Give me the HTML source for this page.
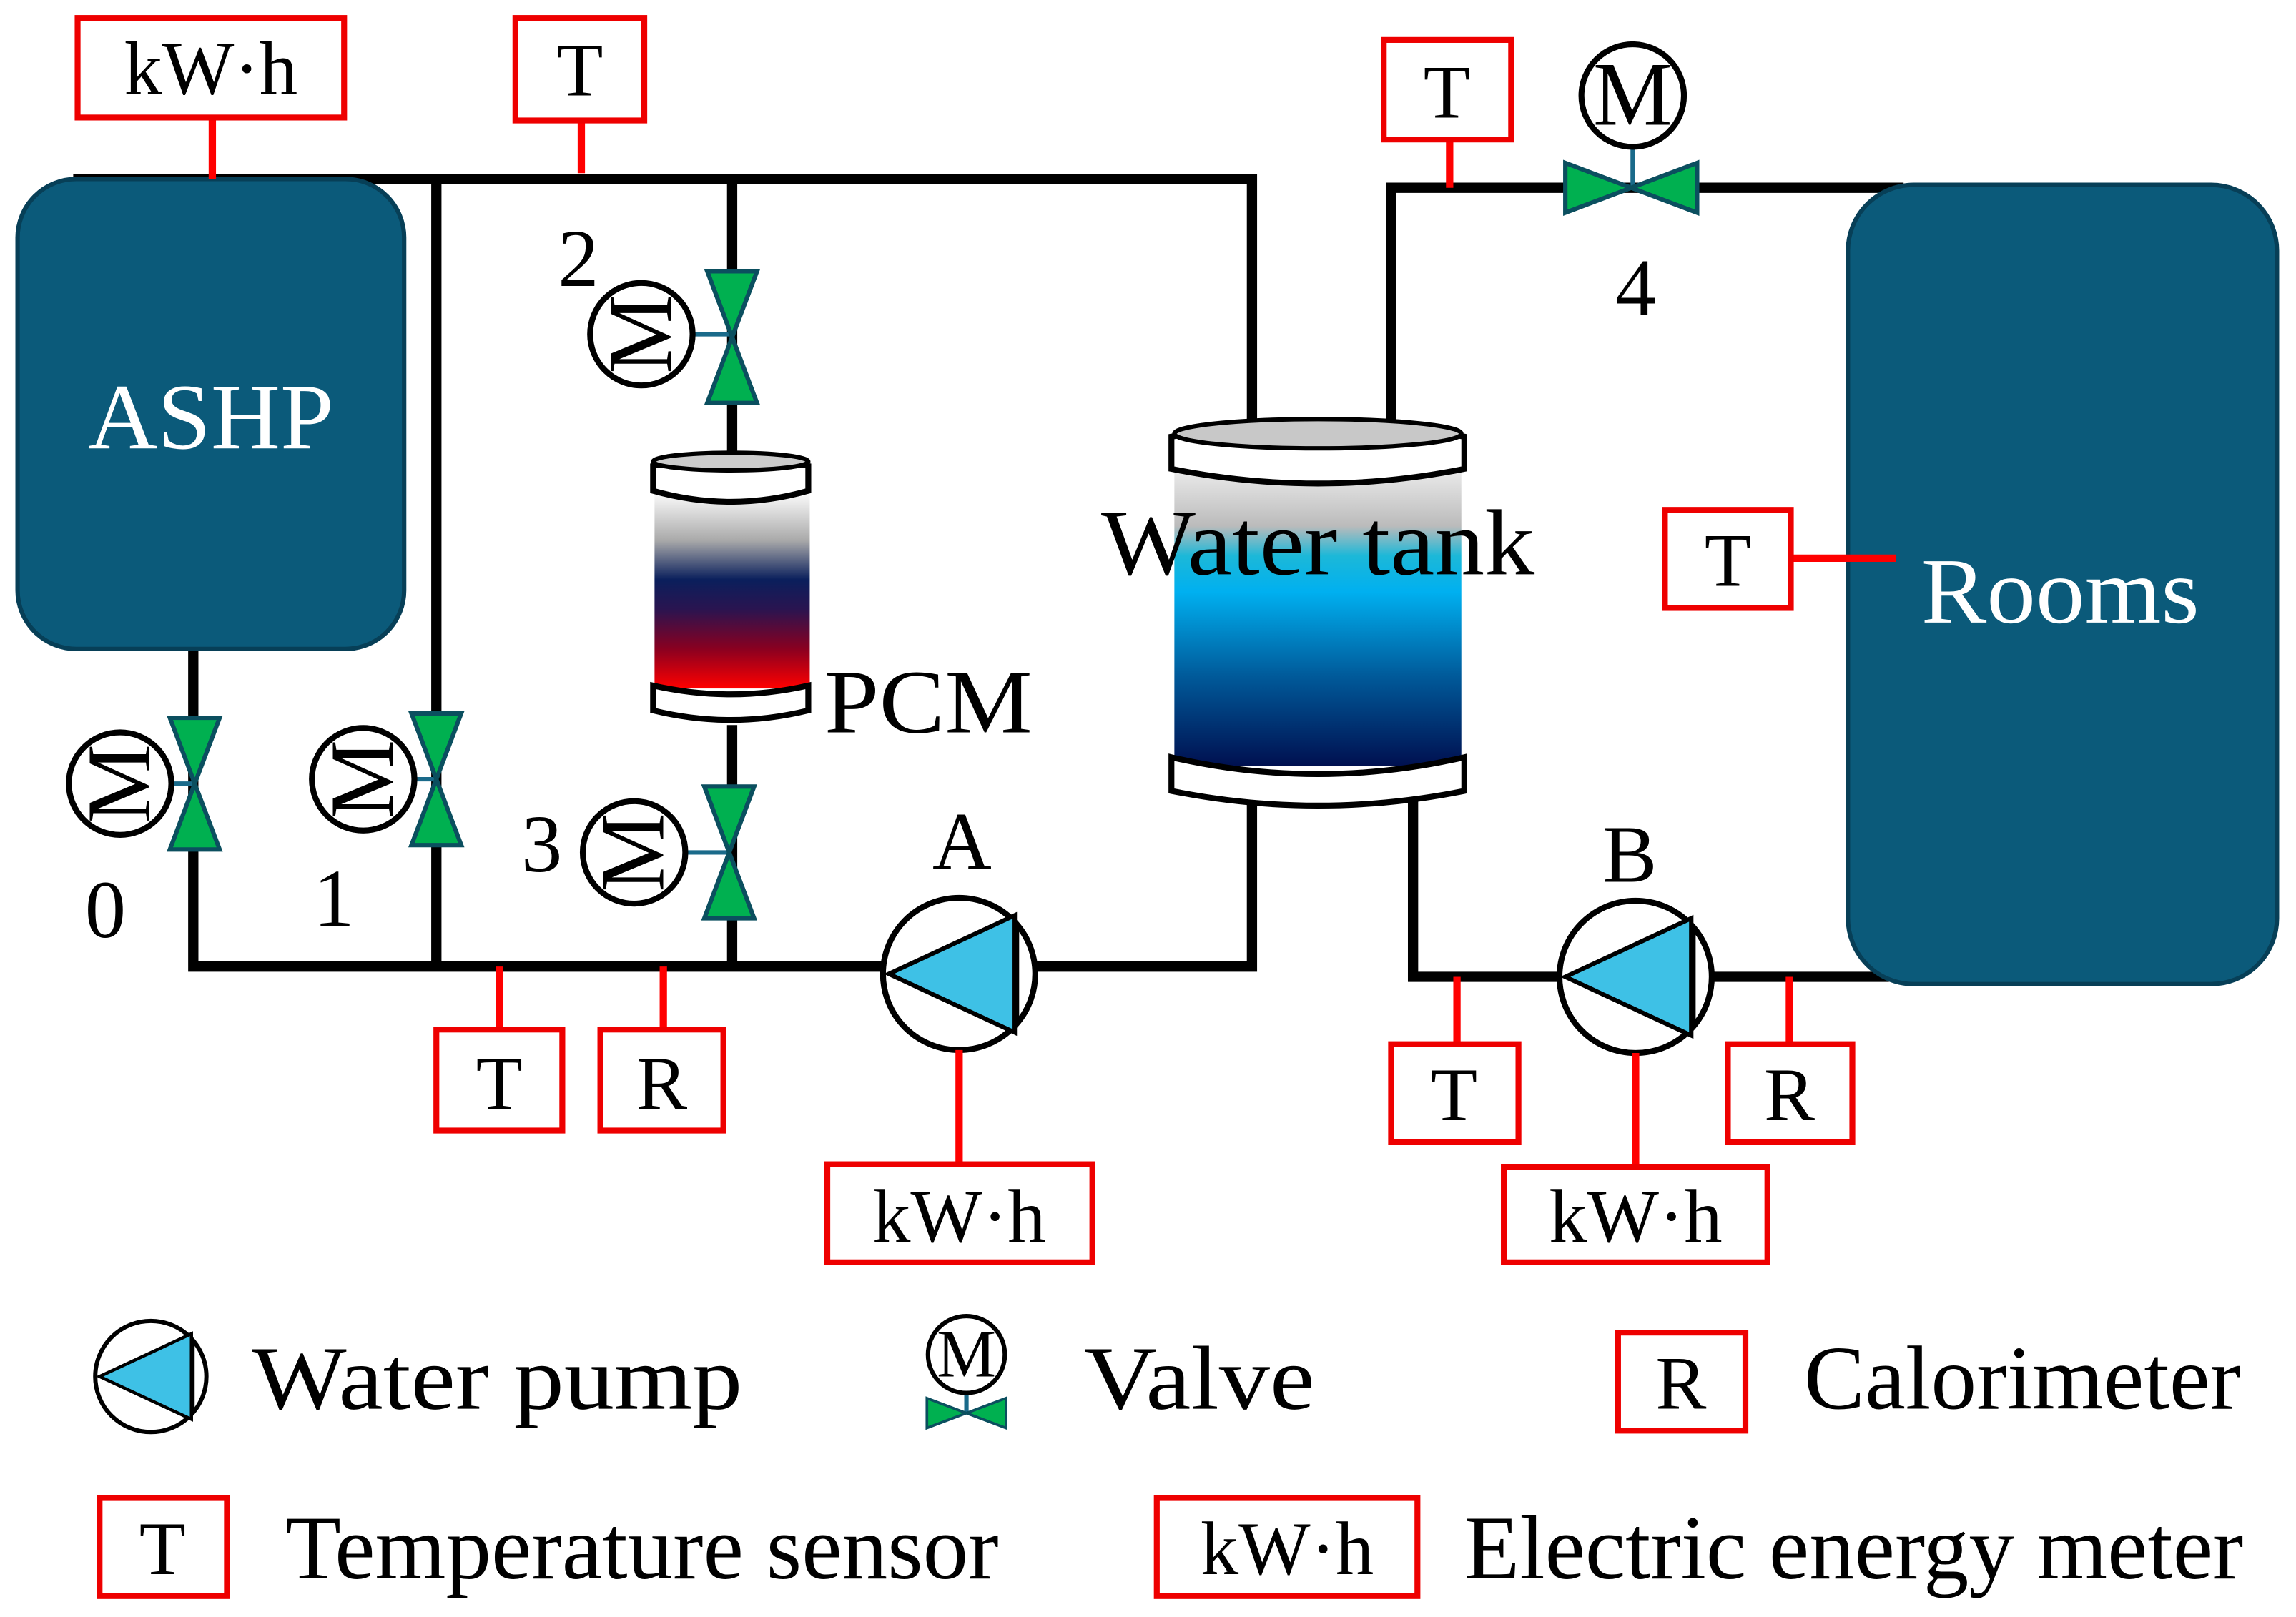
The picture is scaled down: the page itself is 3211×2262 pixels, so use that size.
<!DOCTYPE html>
<html><head><meta charset="utf-8"><style>html,body{margin:0;padding:0;background:#fff}svg{display:block}</style></head><body>
<svg width="3211" height="2262" viewBox="0 0 1568 1104" xmlns="http://www.w3.org/2000/svg" font-family="Liberation Serif, serif">
<defs>
<linearGradient id="pcm" x1="0" y1="0" x2="0" y2="1">
<stop offset="0" stop-color="#fff"/><stop offset="0.25" stop-color="#aaa"/><stop offset="0.45" stop-color="#0a1f5c"/><stop offset="0.6" stop-color="#2a1450"/><stop offset="0.8" stop-color="#8a0020"/><stop offset="1" stop-color="#ff0000"/>
</linearGradient>
<linearGradient id="wt" x1="0" y1="0" x2="0" y2="1">
<stop offset="0" stop-color="#eee"/><stop offset="0.2" stop-color="#bbb"/><stop offset="0.3" stop-color="#1cb8d8"/><stop offset="0.42" stop-color="#00b0f0"/><stop offset="0.7" stop-color="#005a9a"/><stop offset="1" stop-color="#001050"/>
</linearGradient>
<g id="vv">
<polygon points="-17,-45 17,-45 0,0" fill="#00b050" stroke="#0b4f5f" stroke-width="3"/>
<polygon points="-17,45 17,45 0,0" fill="#00b050" stroke="#0b4f5f" stroke-width="3"/>
</g>
<g id="mot">
<circle r="35" fill="#fff" stroke="#000" stroke-width="4"/>
<text x="0" y="20" font-size="62" text-anchor="middle" textLength="54" lengthAdjust="spacingAndGlyphs">M</text>
</g>
<g id="pump">
<circle r="52" fill="#fff" stroke="#000" stroke-width="4"/>
<polygon points="-48,0 38,-40 38,40" fill="#3ec1e6" stroke="#000" stroke-width="3"/>
<line x1="40" y1="-35" x2="40" y2="35" stroke="#000" stroke-width="2"/>
</g>
</defs>
<g stroke="#000" stroke-width="7" fill="none">
<polyline points="50,122 855,122 855,290"/>
<line x1="298" y1="122" x2="298" y2="660"/>
<line x1="500" y1="122" x2="500" y2="310"/>
<polyline points="950,290 950,128 1300,128"/>
<polyline points="132,443 132,660 855,660 855,545"/>
<line x1="500" y1="495" x2="500" y2="660"/>
<polyline points="965,545 965,667 1290,667"/>
</g>
<rect x="12" y="122" width="264" height="321" rx="40" fill="#0b5a7a" stroke="#073f57" stroke-width="3"/>
<text x="60" y="306" font-size="64" fill="#fff" textLength="168" lengthAdjust="spacingAndGlyphs">ASHP</text>
<rect x="1262" y="126" width="293" height="546" rx="45" fill="#0b5a7a" stroke="#073f57" stroke-width="3"/>
<text x="1312" y="425" font-size="64" fill="#fff" textLength="190" lengthAdjust="spacingAndGlyphs">Rooms</text>
<!-- PCM -->
<rect x="447" y="335" width="106" height="135" fill="url(#pcm)"/>
<path d="M446,318 Q499,306 552,318 L552,335 Q499,350 446,335 Z" fill="#fff" stroke="#000" stroke-width="4"/>
<ellipse cx="499" cy="315" rx="53" ry="6" fill="#ccc" stroke="#000" stroke-width="3"/>
<path d="M446,468 Q499,480 552,468 L552,485 Q499,498 446,485 Z" fill="#fff" stroke="#000" stroke-width="4"/>
<text x="563" y="500" font-size="62" textLength="142" lengthAdjust="spacingAndGlyphs">PCM</text>
<!-- Water tank -->
<rect x="802" y="318" width="196" height="205" fill="url(#wt)"/>
<path d="M800,298 Q900,282 1000,298 L1000,320 Q900,340 800,320 Z" fill="#fff" stroke="#000" stroke-width="4"/>
<ellipse cx="900" cy="296" rx="98" ry="10" fill="#c8c8c8" stroke="#000" stroke-width="3"/>
<path d="M800,517 Q900,540 1000,517 L1000,540 Q900,560 800,540 Z" fill="#fff" stroke="#000" stroke-width="4"/>
<text x="752" y="392" font-size="64" textLength="296" lengthAdjust="spacingAndGlyphs">Water tank</text>
<!-- valves -->
<g stroke="#1a6a8a" stroke-width="3"><line x1="82" y1="535" x2="133" y2="535"/><line x1="248" y1="532" x2="298" y2="532"/><line x1="440" y1="228" x2="500" y2="228"/><line x1="435" y1="582" x2="498" y2="582"/><line x1="1115" y1="65" x2="1115" y2="128"/></g>
<use href="#vv" x="133" y="535"/><g transform="translate(82,535) rotate(-90)"><use href="#mot"/></g>
<use href="#vv" x="298" y="532"/><g transform="translate(248,532) rotate(-90)"><use href="#mot"/></g>
<use href="#vv" x="500" y="230"/><g transform="translate(438,228) rotate(-90)"><use href="#mot"/></g>
<use href="#vv" x="498" y="582"/><g transform="translate(433,582) rotate(-90)"><use href="#mot"/></g>
<g transform="translate(1114,128) rotate(90)"><use href="#vv"/></g><use href="#mot" x="1115" y="65"/>
<g font-size="56" text-anchor="middle"><text x="395" y="195">2</text><text x="72" y="640">0</text><text x="228" y="632">1</text><text x="370" y="595">3</text><text x="1117" y="215">4</text><text x="657" y="593">A</text><text x="1113" y="602">B</text></g>
<!-- pumps -->
<use href="#pump" x="655" y="665"/><use href="#pump" x="1117" y="667"/>
<!-- sensors -->
<g stroke="#f00" stroke-width="5">
<line x1="145" y1="80" x2="145" y2="122"/><line x1="397" y1="82" x2="397" y2="118"/><line x1="990" y1="95" x2="990" y2="128"/><line x1="1223" y1="381" x2="1295" y2="381"/>
<line x1="341" y1="660" x2="341" y2="703"/><line x1="453" y1="660" x2="453" y2="703"/><line x1="655" y1="717" x2="655" y2="795"/><line x1="995" y1="667" x2="995" y2="713"/><line x1="1117" y1="719" x2="1117" y2="797"/><line x1="1222" y1="667" x2="1222" y2="713"/>
</g>
<g fill="#fff" stroke="#e00" stroke-width="4">
<rect x="53" y="12" width="182" height="68"/><rect x="352" y="12" width="88" height="70"/><rect x="945" y="27" width="87" height="68"/><rect x="1137" y="348" width="86" height="67"/>
<rect x="298" y="703" width="86" height="69"/><rect x="410" y="703" width="84" height="69"/><rect x="565" y="795" width="181" height="67"/><rect x="950" y="713" width="87" height="67"/><rect x="1027" y="797" width="180" height="65"/><rect x="1180" y="713" width="85" height="67"/>
<rect x="1105" y="910" width="87" height="67"/><rect x="68" y="1023" width="87" height="67"/><rect x="790" y="1023" width="178" height="67"/>
</g>
<g font-size="52" text-anchor="middle">
<text x="144" y="64">kW·h</text><text x="396" y="65">T</text><text x="988" y="80">T</text><text x="1180" y="400">T</text>
<text x="341" y="757">T</text><text x="452" y="757">R</text><text x="655" y="848">kW·h</text><text x="993" y="765">T</text><text x="1117" y="848">kW·h</text><text x="1222" y="765">R</text>
<text x="1148" y="962">R</text><text x="111" y="1075">T</text><text x="879" y="1075">kW·h</text>
</g>
<!-- legend -->
<g transform="translate(103,940) scale(0.73)"><use href="#pump"/></g>
<line x1="660" y1="925" x2="660" y2="965" stroke="#1a6a8a" stroke-width="3"/>
<g transform="translate(660,965) rotate(90) scale(0.6)"><use href="#vv"/></g>
<g transform="translate(660,925) scale(0.75)"><use href="#mot"/></g>
<g font-size="62" lengthAdjust="spacingAndGlyphs">
<text x="172" y="962" textLength="335" lengthAdjust="spacingAndGlyphs">Water pump</text>
<text x="740" y="962" textLength="158" lengthAdjust="spacingAndGlyphs">Valve</text>
<text x="1232" y="962" textLength="298" lengthAdjust="spacingAndGlyphs">Calorimeter</text>
<text x="195" y="1078" textLength="487" lengthAdjust="spacingAndGlyphs">Temperature sensor</text>
<text x="1000" y="1078" textLength="532" lengthAdjust="spacingAndGlyphs">Electric energy meter</text>
</g>
</svg>
</body></html>
